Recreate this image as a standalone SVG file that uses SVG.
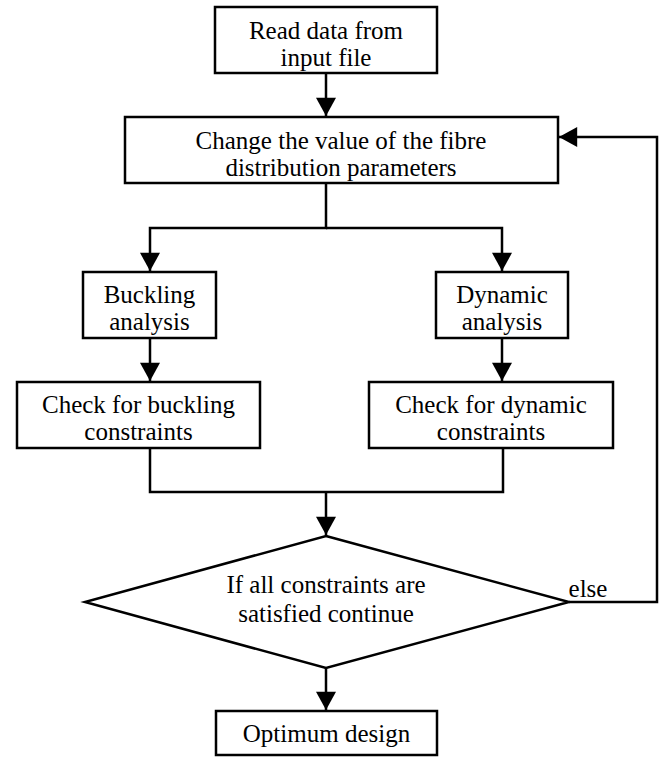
<svg xmlns="http://www.w3.org/2000/svg" width="661" height="757" viewBox="0 0 661 757">
<style>
.box{fill:#fff;stroke:#000;stroke-width:2.5}
.ln{fill:none;stroke:#000;stroke-width:2.5}
text{font-family:"Liberation Serif","Times New Roman",serif;font-size:25px;fill:#000;text-anchor:middle}
</style>
<defs>
<marker id="ah" markerWidth="22" markerHeight="20" refX="20" refY="11" orient="auto" markerUnits="userSpaceOnUse" viewBox="0 0 20 22">
<path d="M0,0 L20,11 L0,22 Z" fill="#000"/>
</marker>
</defs>
<g id="connectors">
<path class="ln" d="M326,73 V116" marker-end="url(#ah)"/>
<path class="ln" d="M326,183 V228 H150 V271" marker-end="url(#ah)"/>
<path class="ln" d="M326,228 H502 V271" marker-end="url(#ah)"/>
<path class="ln" d="M150,338 V381" marker-end="url(#ah)"/>
<path class="ln" d="M502,338 V381" marker-end="url(#ah)"/>
<path class="ln" d="M150,448 V492 H503 V448"/>
<path class="ln" d="M326,492 V535" marker-end="url(#ah)"/>
<path class="ln" d="M326,668 V710" marker-end="url(#ah)"/>
<path class="ln" d="M569,602 H657 V137 H559" marker-end="url(#ah)"/>
<text x="588" y="597">else</text>
</g>
<g id="read">
<rect class="box" x="215" y="7" width="222" height="66"/>
<text x="326" y="39">Read data from</text>
<text x="326" y="66">input file</text>
</g>
<g id="change">
<rect class="box" x="125" y="117" width="433" height="66"/>
<text x="341" y="149">Change the value of the fibre</text>
<text x="341" y="176">distribution parameters</text>
</g>
<g id="buckling">
<rect class="box" x="83" y="272" width="133" height="66"/>
<text x="149.5" y="303">Buckling</text>
<text x="149.5" y="330">analysis</text>
</g>
<g id="dynamic">
<rect class="box" x="436" y="272" width="132" height="66"/>
<text x="502" y="303">Dynamic</text>
<text x="502" y="330">analysis</text>
</g>
<g id="checkbuckling">
<rect class="box" x="17" y="382" width="243" height="66"/>
<text x="138.5" y="413">Check for buckling</text>
<text x="138.5" y="440">constraints</text>
</g>
<g id="checkdynamic">
<rect class="box" x="369" y="382" width="244" height="66"/>
<text x="491" y="413">Check for dynamic</text>
<text x="491" y="440">constraints</text>
</g>
<g id="decision">
<polygon class="box" points="326,536 569,602 326,668 85,602"/>
<text x="326" y="593">If all constraints are</text>
<text x="326" y="622">satisfied continue</text>
</g>
<g id="optimum">
<rect class="box" x="216" y="711" width="221" height="44"/>
<text x="326.5" y="742">Optimum design</text>
</g>
</svg>
